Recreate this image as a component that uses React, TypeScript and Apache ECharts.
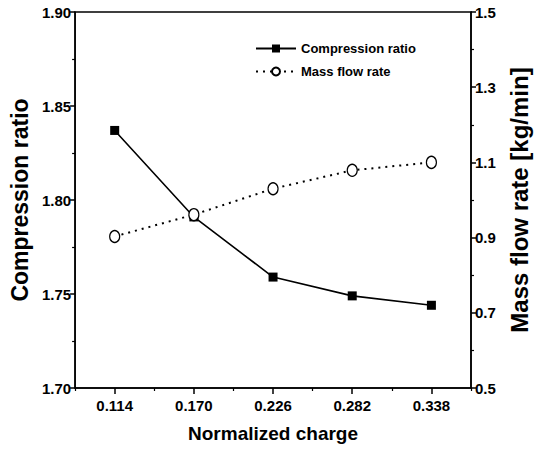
import React, { useEffect, useRef } from "react";
import * as echarts from "echarts";

const categories = ["0.114", "0.170", "0.226", "0.282", "0.338"];
const compressionRatio = [1.837, 1.791, 1.759, 1.749, 1.744];
const massFlowRate = [0.903, 0.961, 1.03, 1.079, 1.1];

const FONT = "'Liberation Sans Narrow', 'Liberation Sans', Arial, sans-serif";

export default function App() {
  const ref = useRef<HTMLDivElement>(null);
  useEffect(() => {
    if (!ref.current) return;
    const chart = echarts.init(ref.current, undefined, { renderer: "svg" });
    const black = "#000";
    const axisLine = { show: true, lineStyle: { color: black, width: 1.5 } };
    chart.setOption({
      animation: false,
      backgroundColor: "#fff",
      textStyle: { fontFamily: FONT, color: black },
      grid: {
        left: 72,
        right: 65,
        top: 12,
        bottom: 65,
        show: true,
        borderColor: black,
        borderWidth: 1.5,
      },
      legend: {
        left: 255,
        top: 42,
        padding: 0,
        orient: "vertical",
        itemWidth: 40,
        itemHeight: 10,
        itemGap: 10,
        textStyle: { fontFamily: FONT, fontSize: 13, fontWeight: "bold", color: black },
        data: ["Compression ratio", "Mass flow rate"],
      },
      xAxis: [
        {
          type: "category",
          data: categories,
          boundaryGap: true,
          position: "bottom",
          axisLine,
          axisTick: { show: true, alignWithLabel: true, length: 6, lineStyle: { color: black, width: 1.5 } },
          axisLabel: { color: black, fontFamily: FONT, fontSize: 15, fontWeight: "bold", margin: 10 },
          splitLine: { show: false },
          name: "Normalized charge",
          nameLocation: "middle",
          nameGap: 36,
          nameTextStyle: { color: black, fontFamily: FONT, fontSize: 19, fontWeight: "bold" },
        },
        {
          type: "category",
          data: categories,
          boundaryGap: true,
          position: "bottom",
          axisLine: { show: false },
          axisTick: { show: true, length: 3, lineStyle: { color: black, width: 1.2 } },
          axisLabel: { show: false },
          splitLine: { show: false },
        },
      ],
      yAxis: [
        {
          type: "value",
          min: 1.7,
          max: 1.9,
          interval: 0.05,
          position: "left",
          axisLine,
          axisTick: { show: true, length: 5, lineStyle: { color: black, width: 1.5 } },
          minorTick: { show: true, splitNumber: 2, length: 3, lineStyle: { color: black, width: 1.2 } },
          axisLabel: {
            color: black,
            fontFamily: FONT,
            fontSize: 15,
            fontWeight: "bold",
            margin: 4,
            formatter: (v: number) => v.toFixed(2),
          },
          splitLine: { show: false },
          name: "Compression ratio",
          nameLocation: "middle",
          nameGap: 40,
          nameTextStyle: { color: black, fontFamily: FONT, fontSize: 23, fontWeight: "bold" },
        },
        {
          type: "value",
          min: 0.5,
          max: 1.5,
          interval: 0.2,
          position: "right",
          axisLine,
          axisTick: { show: true, length: 5, lineStyle: { color: black, width: 1.5 } },
          minorTick: { show: true, splitNumber: 2, length: 3, lineStyle: { color: black, width: 1.2 } },
          axisLabel: {
            color: black,
            fontFamily: FONT,
            fontSize: 15,
            fontWeight: "bold",
            margin: 4,
            formatter: (v: number) => v.toFixed(1),
          },
          splitLine: { show: false },
          name: "Mass flow rate [kg/min]",
          nameLocation: "middle",
          nameGap: 36,
          nameTextStyle: { color: black, fontFamily: FONT, fontSize: 24, fontWeight: "bold" },
        },
      ],
      series: [
        {
          name: "Compression ratio",
          type: "line",
          xAxisIndex: 0,
          yAxisIndex: 0,
          data: compressionRatio,
          symbol: "rect",
          symbolSize: 9,
          itemStyle: { color: black },
          lineStyle: { color: black, width: 1.6 },
        },
        {
          name: "Mass flow rate",
          type: "line",
          xAxisIndex: 0,
          yAxisIndex: 1,
          data: massFlowRate,
          symbol: "circle",
          symbolSize: [10, 12],
          itemStyle: { color: "#fff", borderColor: black, borderWidth: 1.3 },
          lineStyle: { color: black, width: 2, type: [2, 5] },
        },
      ],
    });
    return () => chart.dispose();
  }, []);
  return (
    <div
      ref={ref}
      style={{ position: "fixed", left: 0, top: 0, width: 539, height: 453 }}
    />
  );
}
